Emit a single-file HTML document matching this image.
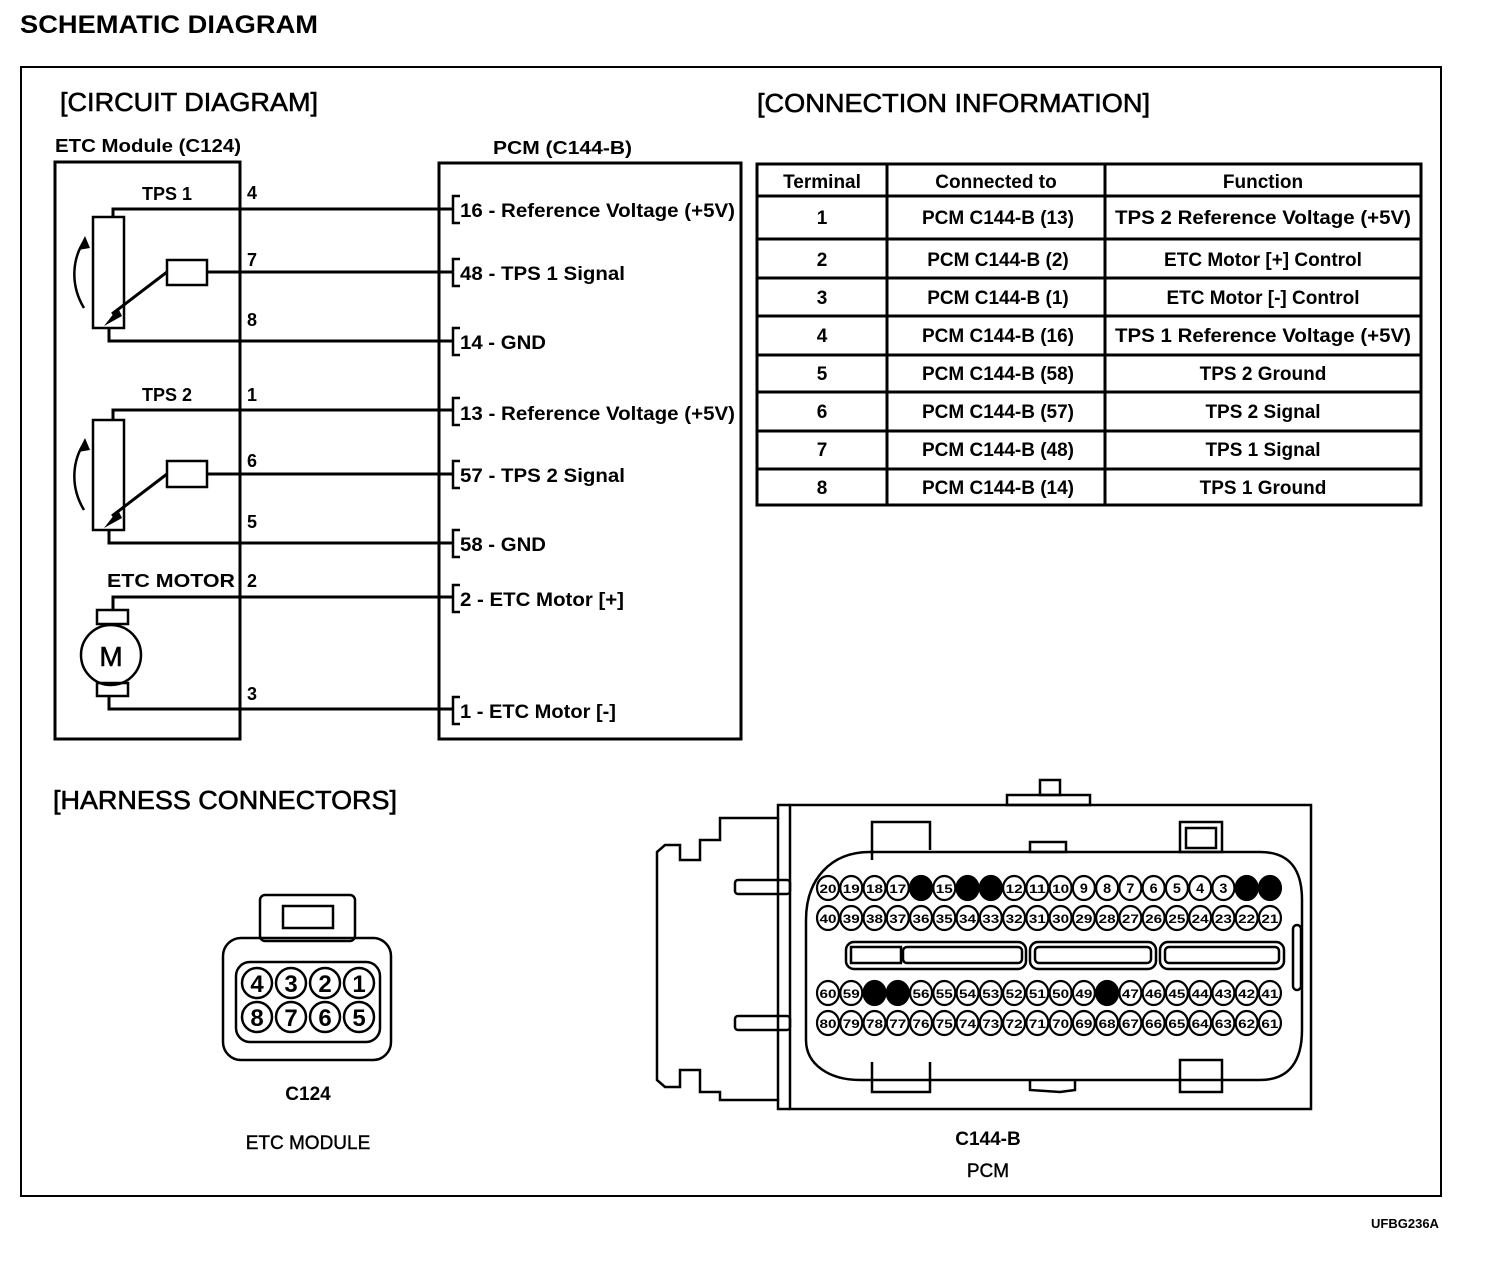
<!DOCTYPE html>
<html><head><meta charset="utf-8"><style>
html,body{margin:0;padding:0;background:#fff}
svg{display:block}
text{font-family:"Liberation Sans",sans-serif;font-weight:bold;fill:#000}
</style></head><body>
<svg id="s" width="1504" height="1278" viewBox="0 0 1504 1278" xmlns="http://www.w3.org/2000/svg">
<text x="20" y="33" font-size="25" textLength="298" lengthAdjust="spacingAndGlyphs">SCHEMATIC DIAGRAM</text>
<rect x="21" y="67" width="1420" height="1129" fill="none" stroke="#000" stroke-width="2"/>
<text x="60" y="111" font-size="26" textLength="258" lengthAdjust="spacingAndGlyphs" style="font-weight:normal;stroke:#000;stroke-width:0.6">[CIRCUIT DIAGRAM]</text>
<text x="757" y="112" font-size="26" textLength="393" lengthAdjust="spacingAndGlyphs" style="font-weight:normal;stroke:#000;stroke-width:0.6">[CONNECTION INFORMATION]</text>
<text x="53" y="809" font-size="26" textLength="344" lengthAdjust="spacingAndGlyphs" style="font-weight:normal;stroke:#000;stroke-width:0.6">[HARNESS CONNECTORS]</text>
<text x="55" y="152" font-size="18" textLength="186" lengthAdjust="spacingAndGlyphs">ETC Module (C124)</text>
<text x="493" y="154" font-size="18" textLength="139" lengthAdjust="spacingAndGlyphs">PCM (C144-B)</text>

<g fill="none" stroke="#000" stroke-width="3">
<rect x="55" y="162" width="185" height="577"/>
<rect x="439" y="163" width="302" height="576"/>
<rect x="93" y="217" width="31" height="111" stroke-width="2.5"/>
<polyline points="113,217 113,209 453,209"/>
<rect x="167" y="260" width="40" height="25" stroke-width="2.5"/>
<line x1="207" y1="272" x2="453" y2="272"/>
<line x1="167" y1="272" x2="112" y2="314"/>
<polyline points="109,328 109,341 453,341"/>
<path d="M84,308 C70,285 72,258 85,240" stroke-width="2.5"/>
<rect x="93" y="420" width="31" height="110" stroke-width="2.5"/>
<polyline points="113,420 113,410 453,410"/>
<rect x="167" y="461" width="40" height="26" stroke-width="2.5"/>
<line x1="207" y1="474" x2="453" y2="474"/>
<line x1="167" y1="474" x2="112" y2="516"/>
<polyline points="109,530 109,543 453,543"/>
<path d="M84,510 C70,487 72,460 85,442" stroke-width="2.5"/>
<polyline points="113,610 113,597 453,597"/>
<rect x="97" y="610" width="31" height="14" stroke-width="2.5"/>
<circle cx="111" cy="655" r="30" stroke-width="2.5"/>
<rect x="97" y="683" width="31" height="13" stroke-width="2.5"/>
<polyline points="109,696 109,709 453,709"/>
<g stroke-width="2.5">
<polyline points="460,196 453,196 453,223 460,223"/>
<polyline points="460,259 453,259 453,286 460,286"/>
<polyline points="460,328 453,328 453,355 460,355"/>
<polyline points="460,398 453,398 453,425 460,425"/>
<polyline points="460,461 453,461 453,488 460,488"/>
<polyline points="460,530 453,530 453,557 460,557"/>
<polyline points="460,585 453,585 453,612 460,612"/>
<polyline points="460,697 453,697 453,724 460,724"/>
</g>
</g>
<polygon points="104,326 118,308 122,316" fill="#000"/>
<polygon points="104,528 118,510 122,518" fill="#000"/>
<polygon points="85,236 78,250 90,248" fill="#000"/>
<polygon points="85,438 78,452 90,450" fill="#000"/>
<text x="111" y="666" font-size="28" text-anchor="middle" style="font-weight:normal;stroke:#000;stroke-width:0.6">M</text>
<g font-size="18">
<text x="142" y="200">TPS 1</text><text x="142" y="401">TPS 2</text>
<text x="107" y="587" textLength="128" lengthAdjust="spacingAndGlyphs">ETC MOTOR</text>
<text x="247" y="199">4</text><text x="247" y="266">7</text><text x="247" y="326">8</text>
<text x="247" y="401">1</text><text x="247" y="467">6</text><text x="247" y="528">5</text>
<text x="247" y="587">2</text><text x="247" y="700">3</text>
</g>
<g font-size="19">
<text x="460" y="217" textLength="275" lengthAdjust="spacingAndGlyphs">16 - Reference Voltage (+5V)</text>
<text x="460" y="280" textLength="165" lengthAdjust="spacingAndGlyphs">48 - TPS 1 Signal</text>
<text x="460" y="349" textLength="86" lengthAdjust="spacingAndGlyphs">14 - GND</text>
<text x="460" y="420" textLength="275" lengthAdjust="spacingAndGlyphs">13 - Reference Voltage (+5V)</text>
<text x="460" y="482" textLength="165" lengthAdjust="spacingAndGlyphs">57 - TPS 2 Signal</text>
<text x="460" y="551" textLength="86" lengthAdjust="spacingAndGlyphs">58 - GND</text>
<text x="460" y="606" textLength="164" lengthAdjust="spacingAndGlyphs">2 - ETC Motor [+]</text>
<text x="460" y="718" textLength="156" lengthAdjust="spacingAndGlyphs">1 - ETC Motor [-]</text>
</g>

<g fill="none" stroke="#000" stroke-width="3">
<rect x="757" y="164" width="664" height="341"/>
<line x1="887" y1="164" x2="887" y2="505"/><line x1="1105" y1="164" x2="1105" y2="505"/>
<line x1="757" y1="196" x2="1421" y2="196"/><line x1="757" y1="239" x2="1421" y2="239"/>
<line x1="757" y1="278" x2="1421" y2="278"/><line x1="757" y1="316" x2="1421" y2="316"/>
<line x1="757" y1="355" x2="1421" y2="355"/><line x1="757" y1="392" x2="1421" y2="392"/>
<line x1="757" y1="431" x2="1421" y2="431"/><line x1="757" y1="469" x2="1421" y2="469"/>
</g>
<g font-size="19" text-anchor="middle" id="tb"></g>

<g fill="none" stroke="#000" stroke-width="2.5">
<rect x="260" y="895" width="95" height="46" rx="5"/>
<rect x="283" y="906" width="50" height="22"/>
<rect x="223" y="938" width="168" height="122" rx="18"/>
<rect x="236" y="962" width="144" height="80" rx="14"/>
</g>
<g id="c124"></g>
<text x="308" y="1100" font-size="19" text-anchor="middle">C124</text>
<text x="308" y="1149" font-size="19" text-anchor="middle" style="font-weight:normal;stroke:#000;stroke-width:0.4">ETC MODULE</text>

<g fill="none" stroke="#000" stroke-width="2.5">
<path d="M790,805 L778,805 L778,818 L720,818 L720,840 L700,840 L700,860 L680,860 L680,845 L665,845 L657,852 L657,1080 L665,1087 L680,1087 L680,1070 L700,1070 L700,1092 L720,1092 L720,1100 L778,1100 L778,1109 L790,1109"/>
<line x1="778" y1="818" x2="778" y2="1100"/>
<rect x="735" y="880" width="55" height="14" rx="3"/>
<rect x="735" y="1016" width="55" height="14" rx="3"/>
<rect x="790" y="805" width="521" height="304"/>
<rect x="1007" y="795" width="83" height="10"/>
<rect x="1040" y="780" width="20" height="15"/>
<path d="M872,860 L872,822 L930,822 L930,850"/>
<rect x="1180" y="822" width="42" height="30"/>
<rect x="1186" y="828" width="30" height="20"/>
<rect x="1030" y="842" width="36" height="10"/>
<path d="M870,852 C830,852 806,880 806,920 L806,1040 C806,1065 830,1080 860,1080 L1260,1080 C1290,1080 1302,1060 1302,1030 L1302,900 C1302,870 1290,852 1260,852 Z"/>
<rect x="1293" y="925" width="8" height="65" rx="4"/>
<path d="M872,1062 L872,1092 L930,1092 L930,1062"/>
<rect x="1180" y="1060" width="42" height="32"/>
<path d="M1030,1080 L1030,1090 L1060,1092 L1075,1090 L1075,1080"/>
<rect x="846" y="942" width="180" height="27" rx="8"/>
<rect x="851" y="947" width="50" height="16"/>
<rect x="903" y="947" width="119" height="16" rx="4"/>
<rect x="1030" y="942" width="126" height="27" rx="8"/>
<rect x="1035" y="947" width="116" height="16" rx="4"/>
<rect x="1160" y="942" width="124" height="27" rx="8"/>
<rect x="1165" y="947" width="114" height="16" rx="4"/>
</g>
<g id="pins"></g>
<text x="988" y="1145" font-size="19" text-anchor="middle">C144-B</text>
<text x="988" y="1177" font-size="19" text-anchor="middle" style="font-weight:normal;stroke:#000;stroke-width:0.4">PCM</text>
<text x="1405" y="1228" font-size="13" text-anchor="middle">UFBG236A</text>
</svg>
<script>
var NS="http://www.w3.org/2000/svg";
function el(p,t,a,txt){var e=document.createElementNS(NS,t);for(var k in a)e.setAttribute(k,a[k]);if(txt!==undefined)e.textContent=txt;p.appendChild(e);return e;}
var tb=document.getElementById("tb");
el(tb,"text",{x:822,y:188},"Terminal");el(tb,"text",{x:996,y:188},"Connected to");el(tb,"text",{x:1263,y:188},"Function");
var rows=[["1","13","TPS 2 Reference Voltage (+5V)"],["2","2","ETC Motor [+] Control"],["3","1","ETC Motor [-] Control"],["4","16","TPS 1 Reference Voltage (+5V)"],["5","58","TPS 2 Ground"],["6","57","TPS 2 Signal"],["7","48","TPS 1 Signal"],["8","14","TPS 1 Ground"]];
var ys=[224,266,304,342,380,418,456,494];
rows.forEach(function(r,i){el(tb,"text",{x:822,y:ys[i]},r[0]);el(tb,"text",{x:998,y:ys[i]},"PCM C144-B ("+r[1]+")");
var a={x:1263,y:ys[i]};if(r[2].length>25){a.textLength=296;a.lengthAdjust="spacingAndGlyphs";}el(tb,"text",a,r[2]);});
var c=document.getElementById("c124");
[[4,3,2,1],[8,7,6,5]].forEach(function(row,j){row.forEach(function(n,i){var cx=257+i*34,cy=983+j*34;
el(c,"circle",{cx:cx,cy:cy,r:15,fill:"none",stroke:"#000","stroke-width":2.5});
el(c,"text",{x:cx,y:cy+9,"font-size":24,"text-anchor":"middle"},n);});});
var p=document.getElementById("pins");
var filled={16:1,14:1,13:1,2:1,1:1,58:1,57:1,48:1};
var rys=[888,918,993,1023],starts=[20,40,60,80];
for(var j=0;j<4;j++)for(var i=0;i<20;i++){var n=starts[j]-i,cx=828+i*23.26,cy=rys[j];
var f=filled[n];el(p,"ellipse",{cx:cx,cy:cy,rx:11,ry:12,fill:f?"#000":"#fff",stroke:"#000","stroke-width":2.2});
if(!f)el(p,"text",{x:cx,y:cy+5,"font-size":n>9?12:14,"text-anchor":"middle",textLength:n>9?17:8,lengthAdjust:"spacingAndGlyphs"},n);}
</script>
</body></html>
